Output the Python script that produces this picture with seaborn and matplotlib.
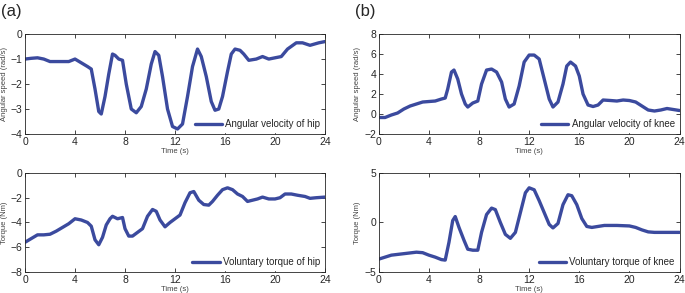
import matplotlib
matplotlib.use("Agg")
import matplotlib.pyplot as plt
import seaborn as sns
import pandas as pd

# hip angular velocity (rad/s)
t_hip_vel = [0, 0.5, 1, 1.5, 2, 3, 3.5, 4, 4.5, 5, 5.3, 5.6, 5.9, 6.1, 6.4, 6.7, 7.0, 7.2,
             7.5, 7.8, 8.1, 8.5, 8.9, 9.3, 9.7, 10.1, 10.4, 10.7, 11.0, 11.4, 11.8, 12.2,
             12.6, 13.0, 13.4, 13.8, 14.1, 14.5, 14.9, 15.2, 15.5, 15.8, 16.2, 16.5, 16.8,
             17.2, 17.5, 17.9, 18.5, 19, 19.5, 20, 20.5, 21, 21.7, 22.2, 22.8, 23.5, 24]
hip_vel = [-1.0, -0.97, -0.95, -1.0, -1.1, -1.1, -1.1, -1.0, -1.15, -1.3, -1.4, -2.2, -3.1,
           -3.2, -2.5, -1.6, -0.8, -0.85, -1.0, -1.05, -2.0, -3.0, -3.15, -2.9, -2.2, -1.2,
           -0.7, -0.85, -1.7, -3.0, -3.7, -3.8, -3.6, -2.5, -1.3, -0.6, -0.9, -1.7, -2.7,
           -3.05, -3.0, -2.5, -1.5, -0.8, -0.6, -0.65, -0.8, -1.05, -1.0, -0.9, -1.0, -0.95,
           -0.9, -0.6, -0.35, -0.35, -0.45, -0.35, -0.3]

# knee angular velocity (rad/s)
t_knee_vel = [0, 0.5, 1, 1.5, 2, 2.5, 3, 3.5, 4, 4.5, 5, 5.3, 5.5, 5.8, 6.0, 6.3, 6.6, 6.9,
              7.1, 7.5, 7.9, 8.2, 8.6, 9.0, 9.4, 9.8, 10.1, 10.4, 10.8, 11.2, 11.6, 12.0,
              12.4, 12.8, 13.2, 13.6, 13.9, 14.3, 14.7, 15.0, 15.3, 15.7, 16.0, 16.3, 16.7,
              17.1, 17.5, 17.9, 18.5, 19, 19.5, 20, 20.5, 21, 21.5, 22, 22.5, 23, 23.5, 24]
knee_vel = [-0.35, -0.35, -0.1, 0.1, 0.5, 0.8, 1.0, 1.2, 1.25, 1.3, 1.5, 1.6, 2.5, 4.2, 4.4,
            3.5, 2.0, 1.0, 0.7, 1.1, 1.3, 3.0, 4.4, 4.5, 4.2, 3.2, 1.5, 0.7, 1.0, 2.8, 5.2,
            5.9, 5.9, 5.5, 3.5, 1.5, 0.7, 1.2, 3.0, 4.8, 5.2, 4.8, 3.8, 2.0, 0.9, 0.75, 0.9,
            1.4, 1.35, 1.3, 1.4, 1.35, 1.2, 0.8, 0.4, 0.3, 0.4, 0.55, 0.45, 0.35]

# hip voluntary torque (Nm)
t_hip_tq = [0, 0.5, 1, 1.5, 2, 2.5, 3, 3.5, 4, 4.5, 5, 5.3, 5.6, 5.9, 6.2, 6.5, 6.8, 7.0,
            7.4, 7.8, 8.0, 8.3, 8.6, 9.0, 9.4, 9.8, 10.2, 10.5, 10.8, 11.2, 11.6, 12.0, 12.4,
            12.8, 13.2, 13.5, 13.9, 14.3, 14.7, 15.0, 15.4, 15.8, 16.2, 16.6, 17.0, 17.4,
            17.8, 18.2, 18.6, 19.0, 19.5, 20.0, 20.4, 20.8, 21.3, 21.8, 22.4, 22.8, 23.3, 24]
hip_tq = [-5.6, -5.3, -5.0, -5.0, -4.95, -4.7, -4.4, -4.1, -3.7, -3.8, -4.0, -4.3, -5.4,
          -5.8, -5.2, -4.2, -3.7, -3.5, -3.7, -3.6, -4.5, -5.1, -5.1, -4.8, -4.5, -3.5,
          -2.95, -3.1, -3.8, -4.35, -4.0, -3.7, -3.4, -2.4, -1.6, -1.5, -2.2, -2.55, -2.6,
          -2.3, -1.8, -1.35, -1.2, -1.35, -1.7, -1.9, -2.3, -2.2, -2.1, -1.95, -2.1, -2.1,
          -2.0, -1.7, -1.7, -1.8, -1.9, -2.05, -2.0, -1.95]

# knee voluntary torque (Nm)
t_knee_tq = [0, 0.5, 1, 2, 3, 3.5, 4, 4.5, 5, 5.3, 5.6, 5.9, 6.1, 6.4, 6.8, 7.1, 7.5, 7.9,
             8.2, 8.6, 9.0, 9.3, 9.7, 10.1, 10.5, 10.9, 11.3, 11.7, 12.0, 12.4, 12.8, 13.2,
             13.6, 13.9, 14.3, 14.7, 15.1, 15.4, 15.8, 16.2, 16.6, 17.0, 17.5, 18, 19, 20,
             20.5, 21, 21.5, 22, 23, 24]
knee_tq = [-3.7, -3.5, -3.3, -3.15, -3.0, -3.05, -3.3, -3.5, -3.75, -3.8, -2.0, 0.2, 0.6,
           -0.5, -1.8, -2.7, -2.8, -2.8, -1.0, 0.8, 1.45, 1.3, 0.0, -1.2, -1.6, -1.0, 1.0,
           3.0, 3.5, 3.3, 2.2, 1.0, -0.2, -0.55, -0.1, 1.8, 2.8, 2.7, 1.8, 0.4, -0.4, -0.5,
           -0.4, -0.3, -0.3, -0.35, -0.5, -0.75, -0.95, -1.0, -1.0, -1.0]

panels = [
    (t_hip_vel, hip_vel, "Angular velocity of hip", "Angular speed (rad/s)", (-4, 0), [-4, -3, -2, -1, 0]),
    (t_knee_vel, knee_vel, "Angular velocity of knee", "Angular speed (rad/s)", (-2, 8), [-2, 0, 2, 4, 6, 8]),
    (t_hip_tq, hip_tq, "Voluntary torque of hip", "Torque (Nm)", (-8, 0), [-8, -6, -4, -2, 0]),
    (t_knee_tq, knee_tq, "Voluntary torque of knee", "Torque (Nm)", (-5, 5), [-5, 0, 5]),
]

sns.set_style("ticks")
plt.rcParams["font.family"] = ["Liberation Sans", "DejaVu Sans"]

fig = plt.figure(figsize=(6.85, 2.93), dpi=100)
rects = [
    [0.0365, 0.5427, 0.438, 0.341],
    [0.553, 0.5427, 0.439, 0.341],
    [0.0365, 0.0717, 0.438, 0.338],
    [0.553, 0.0717, 0.439, 0.338],
]

for rect, (t, y, name, ylab, ylim, yticks) in zip(rects, panels):
    ax = fig.add_axes(rect)
    df = pd.DataFrame({"Time": t, "Value": y})
    sns.lineplot(data=df, x="Time", y="Value", ax=ax, color="#3b4a9e", linewidth=2.4, label=name)
    ax.set_xlim(0, 24)
    ax.set_ylim(*ylim)
    ax.set_xticks([0, 4, 8, 12, 16, 20, 24])
    ax.set_yticks(yticks)
    ax.tick_params(direction="in", length=3, width=0.6, labelsize=7.5, pad=2,
                   top=True, right=True)
    for s in ax.spines.values():
        s.set_visible(True)
        s.set_linewidth(0.6)
    ax.set_xlabel("Time (s)", fontsize=5.5, color="#444444", labelpad=1)
    ax.set_ylabel(ylab, fontsize=5.5, color="#444444", labelpad=2)
    leg = ax.legend(loc="lower right", fontsize=7, frameon=True, fancybox=False,
                    handlelength=2.8, handletextpad=0.35, borderaxespad=0.2, borderpad=0.3)
    leg.get_frame().set_edgecolor("white")
    leg.get_frame().set_alpha(1)
    leg.set_zorder(1)

fig.text(0.002, 0.985, "(a)", fontsize=12, va="top", ha="left")
fig.text(0.518, 0.985, "(b)", fontsize=12, va="top", ha="left")

fig.savefig("out.png", dpi=100)
